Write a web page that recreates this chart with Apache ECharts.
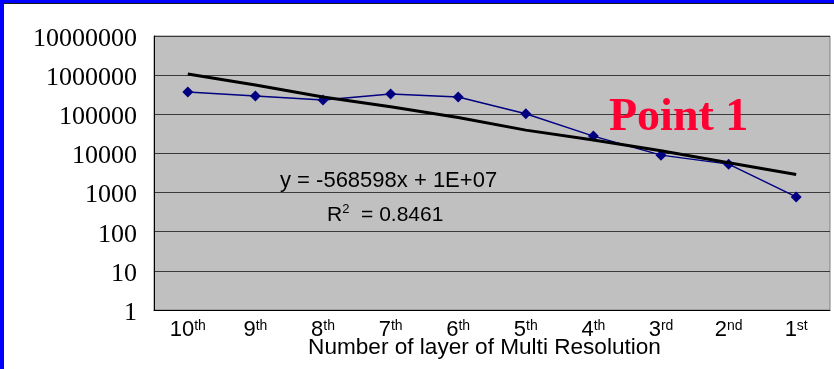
<!DOCTYPE html>
<html>
<head>
<meta charset="utf-8">
<script src="https://cdn.jsdelivr.net/npm/echarts@6/dist/echarts.min.js"></script>
<style>
  html, body { margin: 0; padding: 0; background: #fff; }
  #frame {
    position: absolute; left: 0; top: 0; width: 834px; height: 369px;
    box-sizing: border-box;
    border-top: 3px solid #0000ff; border-left: 3px solid #0000ff;
  }
  #inner {
    width: 100%; height: 100%; box-sizing: border-box;
    border-top: 1px solid #1a1a1a; border-left: 1px solid #1a1a1a;
  }
  #chart { position: absolute; left: 0; top: 0; width: 834px; height: 369px; }
</style>
</head>
<body>
<div id="frame"><div id="inner"></div></div>
<div id="chart"></div>
<script>
// layers, coarse (10th) to fine (1st)
const layers = ['10', '9', '8', '7', '6', '5', '4', '3', '2', '1'];
const suffixes = ['th', 'th', 'th', 'th', 'th', 'th', 'th', 'rd', 'nd', 'st'];

const counts = [370000, 292000, 231000, 329000, 276000, 103000, 27700, 9050, 5330, 776];

// trend line as drawn in the picture
const trend = [1070000, 558000, 275000, 156000, 83000, 39400, 21900, 11700, 5760, 2900];

const categories = layers.map((n, i) => n + '|' + suffixes[i]);

const chart = echarts.init(document.getElementById('chart'), null, { renderer: 'canvas' });

const sans = '"Liberation Sans", Arial, sans-serif';
const serif = '"Liberation Serif", "Times New Roman", serif';

const option = {
    backgroundColor: 'transparent',
    animation: false,
    grid: {
        left: 154, top: 36, right: 4, bottom: 59,
        containLabel: false,
        outerBoundsMode: 'none',
        show: true,
        backgroundColor: '#c0c0c0',
        borderColor: '#808080',
        borderWidth: 1
    },
    xAxis: {
        type: 'category',
        data: categories,
        boundaryGap: true,
        axisLine: { lineStyle: { color: '#000', width: 1 } },
        axisTick: { inside: true, length: 6, lineStyle: { color: '#000' } },
        axisLabel: {
            interval: 0,
            margin: 9,
            formatter: function (v) {
                const p = v.split('|');
                return '{n|' + p[0] + '}{s|' + p[1] + '}';
            },
            rich: {
                n: { fontFamily: sans, fontSize: 22, color: '#000', lineHeight: 22 },
                s: { fontFamily: sans, fontSize: 14, color: '#000', verticalAlign: 'top', lineHeight: 22, padding: [0, 0, 10, 0] }
            }
        },
        name: 'Number of layer of Multi Resolution',
        nameLocation: 'middle',
        nameGap: 26,
        nameMoveOverlap: false,
        nameTextStyle: { fontFamily: sans, fontSize: 22.6, color: '#000', padding: [0, 15, 0, 0] },
        splitLine: { show: false }
    },
    yAxis: {
        type: 'log',
        logBase: 10,
        min: 1,
        max: 10000000,
        axisLine: { show: true, lineStyle: { color: '#000', width: 1 } },
        axisTick: { show: false },
        minorTick: { show: false },
        axisLabel: {
            margin: 17,
            formatter: function (v) { return '{v|' + Math.round(v) + '}'; },
            rich: {
                v: { fontFamily: serif, fontSize: 26, color: '#000', padding: [6, 0, 0, 0] }
            }
        },
        splitLine: { show: true, lineStyle: { color: '#3a3a3a', width: 1 } }
    },
    series: [
        {
            name: 'count',
            type: 'line',
            data: counts,
            symbol: 'diamond',
            symbolSize: 11,
            lineStyle: { color: '#000080', width: 1.5 },
            itemStyle: { color: '#000080' },
            z: 3
        },
        {
            name: 'trend',
            type: 'line',
            data: trend,
            symbol: 'none',
            lineStyle: { color: '#000', width: 3 },
            z: 4
        }
    ],
    graphic: [
        {
            type: 'text', left: 280, top: 170,
            style: { text: 'y = -568598x + 1E+07', fontFamily: sans, fontSize: 22, fill: '#000' }
        },
        {
            type: 'text', left: 327, top: 203,
            style: {
                text: '{n|R}{s|2}{n|  = 0.8461}',
                rich: {
                    n: { fontFamily: sans, fontSize: 21, fill: '#000', lineHeight: 24 },
                    s: { fontFamily: sans, fontSize: 13, fill: '#000', verticalAlign: 'top', lineHeight: 24, padding: [0, 0, 10, 0] }
                }
            }
        },
        {
            type: 'text', left: 609, top: 95,
            style: { text: 'Point 1', fontFamily: serif, fontWeight: 'bold', fontSize: 46, fill: '#ff0033' },
            z: 10
        }
    ]
};

chart.setOption(option);
</script>
</body>
</html>
